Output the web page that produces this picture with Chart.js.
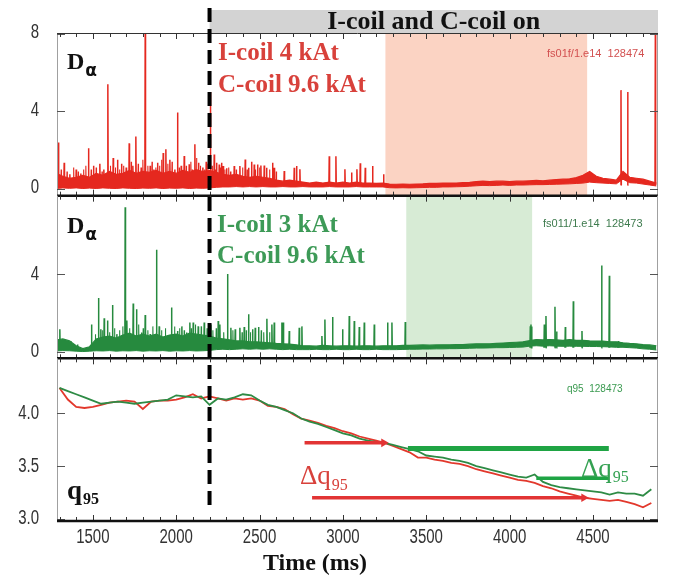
<!DOCTYPE html>
<html>
<head>
<meta charset="utf-8">
<script src="https://cdn.jsdelivr.net/npm/chart.js@4.4.1/dist/chart.umd.min.js"></script>
<style>
  html, body { margin: 0; padding: 0; background: #fff; }
  #wrap { width: 684px; height: 578px; position: relative; }
</style>
</head>
<body>
<div id="wrap"><canvas id="grafico"></canvas></div>
<script>
// ---- time axis ----
const TIME_MIN = 1285;
const TIME_MAX = 4890;
const timeTicks = [1500, 2000, 2500, 3000, 3500, 4000, 4500];
const coilOnTime = 2200;

// ---- D-alpha panels ----
const daTicksTop = [0, 4, 8];
const daTicksMid = [0, 4];
const redWindow = [3255, 4465];
const greenWindow = [3380, 4135];

// envelope of the dense D-alpha noise, sampled every 40 ms from 1280 ms
const envStart = 1280;
const envStep = 40;
const redHi = [0.8, 0.65, 0.55, 0.6, 0.7, 0.6, 0.8, 0.7, 0.9, 0.75, 0.8, 0.95, 0.8, 0.9, 0.85, 0.95, 0.8, 0.9, 0.8, 0.95, 0.85, 1.0, 0.9,
  0.95, 0.85, 0.75, 0.7, 0.75, 0.65, 0.6, 0.65, 0.6, 0.55,
  0.45, 0.4, 0.45, 0.4, 0.35, 0.3, 0.35, 0.3, 0.35, 0.3, 0.35, 0.3, 0.35, 0.3, 0.3, 0.28, 0.3,
  0.25, 0.24, 0.25, 0.24, 0.25, 0.26, 0.28, 0.28, 0.3, 0.3, 0.3, 0.32, 0.34,
  0.38, 0.4, 0.38, 0.4, 0.4, 0.38, 0.4, 0.4, 0.42, 0.44, 0.42, 0.45, 0.48, 0.5, 0.52, 0.58,
  0.7, 0.9, 0.65, 0.55, 0.5, 0.45, 0.9, 0.6, 0.55, 0.5, 0.4, 0.3];
const redLo = [0.02, 0.05, 0.03, 0.05, 0.02, 0.04, 0.02, 0.05, 0.03, 0.02, 0.05, 0.03, 0.02, 0.04, 0.03, 0.05, 0.02, 0.04, 0.03, 0.05, 0.02, 0.04, 0.03,
  0.05, 0.08, 0.1, 0.1, 0.12, 0.1, 0.12, 0.1, 0.12, 0.1,
  0.1, 0.12, 0.1, 0.1, 0.12, 0.1, 0.1, 0.1, 0.12, 0.1, 0.1, 0.1, 0.12, 0.1, 0.1, 0.1, 0.1,
  0.06, 0.05, 0.06, 0.05, 0.06, 0.07, 0.08, 0.08, 0.1, 0.1, 0.11, 0.12, 0.14,
  0.16, 0.18, 0.17, 0.18, 0.2, 0.18, 0.2, 0.2, 0.21, 0.22, 0.22, 0.23, 0.24, 0.25, 0.26, 0.28,
  0.3, 0.35, 0.32, 0.3, 0.28, 0.26, 0.5, 0.32, 0.3, 0.25, 0.2, 0.15];
const greenHi = [0.6, 0.65, 0.55, 0.3, 0.15, 0.25, 0.65, 0.75, 0.8, 0.7, 0.85, 0.95, 0.8, 0.9, 0.8, 0.9, 0.75, 0.85, 0.9, 0.8, 0.95, 0.9, 0.85,
  0.8, 0.7, 0.65, 0.6, 0.55, 0.55, 0.5, 0.5, 0.48, 0.45,
  0.42, 0.4, 0.38, 0.35, 0.3, 0.3, 0.28, 0.32, 0.3, 0.28, 0.3, 0.3, 0.28, 0.3, 0.3, 0.28, 0.3,
  0.3, 0.3, 0.32, 0.32, 0.33, 0.34, 0.33, 0.34, 0.35, 0.35, 0.36, 0.36, 0.38,
  0.4, 0.4, 0.4, 0.42, 0.44, 0.46, 0.48, 0.5, 0.56, 0.62, 0.6, 0.62, 0.6, 0.58, 0.62, 0.58,
  0.58, 0.55, 0.54, 0.54, 0.5, 0.5, 0.45, 0.42, 0.4, 0.36, 0.34, 0.3];
const greenLo = [0.03, 0.05, 0.04, 0.02, 0.0, 0.02, 0.04, 0.03, 0.05, 0.02, 0.04, 0.03, 0.05, 0.02, 0.04, 0.03, 0.05, 0.02, 0.04, 0.03, 0.05, 0.03, 0.04,
  0.06, 0.1, 0.12, 0.1, 0.12, 0.14, 0.12, 0.14, 0.12, 0.14,
  0.12, 0.1, 0.12, 0.1, 0.1, 0.1, 0.12, 0.1, 0.1, 0.12, 0.1, 0.1, 0.12, 0.1, 0.1, 0.12, 0.1,
  0.1, 0.1, 0.11, 0.12, 0.12, 0.13, 0.13, 0.14, 0.14, 0.15, 0.15, 0.16, 0.17,
  0.18, 0.18, 0.19, 0.2, 0.2, 0.21, 0.22, 0.23, 0.28, 0.3, 0.28, 0.3, 0.28, 0.27, 0.28, 0.27,
  0.27, 0.26, 0.26, 0.25, 0.24, 0.22, 0.22, 0.2, 0.18, 0.14, 0.12, 0.08];

// ELM spikes (time in ms, peak)
const redSpikeT = [1294, 1328, 1362, 1400, 1428, 1474, 1504, 1542, 1566, 1590, 1622, 1648, 1672, 1700, 1718, 1740, 1758, 1790, 1814,
  1844, 1866, 1888, 1922, 1938, 1962, 1992, 2008, 2030, 2048, 2078, 2096, 2112, 2134, 2160, 2180,
  2205, 2228, 2242, 2258, 2272, 2282, 2302, 2326, 2348, 2382, 2414, 2434, 2452, 2468, 2488, 2508, 2528, 2542, 2578, 2588,
  2648, 2708, 2722, 2742, 2918, 2958, 3012, 3052, 3084, 3104, 3134, 3178, 3244, 4668, 4708, 4874];
const redSpikeV = [2.4, 1.35, 0.75, 1.0, 0.8, 2.1, 1.2, 1.3, 1.0, 5.4, 1.6, 1.5, 1.3, 1.1, 2.35, 1.2, 2.7, 1.1, 8.0,
  1.2, 1.0, 1.35, 1.85, 2.05, 1.5, 1.0, 3.95, 1.2, 1.7, 1.27, 1.0, 2.3, 1.35, 1.1, 1.4,
  5.0, 1.78, 1.35, 1.26, 1.35, 1.18, 1.06, 0.9, 1.18, 1.18, 1.52, 1.09, 1.4, 1.26, 1.26, 1.21, 1.21, 1.09, 1.35, 1.09,
  0.92, 1.09, 1.18, 1.01, 1.69, 1.69, 1.01, 0.84, 1.01, 1.32, 1.09, 1.18, 0.76, 5.1, 5.0, 8.0];
// smaller bursts inside the noisy band
const redMinorT = [1310, 1345, 1385, 1412, 1445, 1458, 1490, 1520, 1555, 1605, 1635, 1660, 1685, 1730, 1772, 1800, 1830, 1855,
  1878, 1900, 1912, 1950, 1975, 2018, 2060, 2088, 2122, 2145, 2170, 2190,
  2215, 2235, 2265, 2292, 2315, 2360, 2398, 2425, 2475, 2500, 2560, 2600];
const redMinorV = [1.0, 0.9, 1.1, 0.9, 1.0, 1.2, 1.0, 1.1, 0.9, 1.2, 1.1, 1.0, 1.2, 1.4, 1.3, 1.5, 1.2, 1.4,
  1.1, 1.2, 1.5, 1.3, 1.4, 1.1, 1.2, 1.4, 1.6, 1.2, 1.0, 1.3,
  1.2, 1.0, 1.1, 1.0, 1.1, 1.0, 1.1, 1.0, 1.0, 1.1, 1.0, 0.9];
const greenSpikeT = [1302, 1328, 1368, 1408, 1492, 1534, 1548, 1568, 1588, 1618, 1644, 1694, 1704, 1742, 1762, 1792, 1814, 1844,
  1882, 1898, 1948, 1972, 2008, 2034, 2062, 2082, 2102, 2132, 2168, 2208, 2252, 2262, 2308, 2328, 2354, 2382,
  2408, 2434, 2458, 2474, 2494, 2544, 2574, 2588, 2634, 2642, 2678, 2738, 2754, 2874, 2892, 2938, 2998, 3038,
  3068, 3098, 3128, 3188, 3268, 3294, 3374, 4124, 4128, 4132, 4208, 4218, 4272, 4282, 4334, 4382, 4434,
  4552, 4598, 4652];
const greenSpikeV = [1.15, 0.54, 0.54, 0.36, 1.4, 2.76, 1.15, 1.72, 1.61, 2.4, 0.9, 7.45, 1.6, 2.48, 2.19, 0.98, 1.89, 0.9,
  5.26, 1.3, 0.8, 2.28, 1.06, 1.3, 0.98, 1.5, 1.5, 1.3, 1.5, 1.4, 1.58, 1.4, 4.0, 1.23, 1.15, 1.23,
  1.27, 1.93, 1.15, 1.23, 1.27, 1.7, 1.4, 1.5, 1.5, 1.5, 1.06, 1.23, 1.3, 0.8, 1.66, 1.79, 1.15, 1.84,
  1.58, 1.27, 1.5, 1.4, 1.5, 1.5, 1.53, 1.3, 1.4, 1.3, 1.4, 1.84, 2.31, 1.03, 1.27, 2.6, 1.06,
  4.44, 3.92, 0.54];
const greenMinorT = [1515, 1558, 1600, 1630, 1660, 1680, 1720, 1775, 1802, 1830, 1860, 1912, 1935, 1990, 2020, 2048, 2090, 2115,
  2150, 2185, 2220, 2240, 2285, 2340, 2395, 2420, 2445, 2510, 2525, 2560];
const greenMinorV = [0.9, 1.1, 1.0, 1.2, 1.1, 1.3, 1.2, 1.4, 1.2, 1.1, 1.3, 1.1, 1.2, 1.3, 1.2, 1.1, 1.2, 1.4,
  1.3, 1.2, 1.1, 1.2, 1.0, 1.1, 1.0, 1.1, 1.0, 1.1, 1.0, 1.0];
const spikeFoot = 0.2;

// ---- q95 panel, sampled every 50 ms from 1300 ms ----
const q95Ticks = [3.0, 3.5, 4.0];
const q95Start = 1300;
const q95Step = 50;
const q95Green = [4.24, 4.21, 4.18, 4.15, 4.12, 4.09, 4.10, 4.11, 4.10, 4.09, 4.10, 4.11, 4.12, 4.13, 4.17, 4.16, 4.15, 4.16,
  4.08, 4.14, 4.13, 4.15, 4.18, 4.17, 4.12, 4.08, 4.06, 4.03, 4.00, 3.95, 3.92, 3.90, 3.87, 3.84, 3.81, 3.79,
  3.76, 3.74, 3.73, 3.72, 3.70, 3.68, 3.66, 3.64, 3.60, 3.59, 3.58, 3.56, 3.55, 3.53, 3.50, 3.48, 3.46, 3.44,
  3.42, 3.40, 3.39, 3.42, 3.35, 3.32, 3.30, 3.29, 3.28, 3.27, 3.26, 3.25, 3.23, 3.25, 3.24, 3.24, 3.22, 3.28];
const q95Red = [4.24, 4.13, 4.06, 4.05, 4.06, 4.08, 4.10, 4.11, 4.12, 4.11, 4.04, 4.11, 4.12, 4.12, 4.13, 4.15, 4.18, 4.14,
  4.16, 4.14, 4.12, 4.14, 4.13, 4.14, 4.12, 4.07, 4.06, 4.04, 3.99, 3.95, 3.93, 3.91, 3.88, 3.86, 3.83, 3.81,
  3.78, 3.76, 3.74, 3.72, 3.69, 3.66, 3.63, 3.58, 3.58, 3.56, 3.55, 3.53, 3.52, 3.50, 3.47, 3.45, 3.43, 3.41,
  3.39, 3.37, 3.36, 3.34, 3.31, 3.29, 3.26, 3.24, 3.22, 3.20, 3.19, 3.18, 3.17, 3.18, 3.16, 3.14, 3.11, 3.15];

// delta q95 bars: [start ms, end ms], level
const redBarUpT = [2770, 3245];
const redBarUpV = 3.72;
const redBarLowT = [2815, 4445];
const redBarLowV = 3.2;
const greenBarUpT = [3390, 4595];
const greenBarUpV = 3.667;
const greenBarLowT = [4160, 4595];
const greenBarLowV = 3.385;

const RED = '#e5281f';
const GREEN = '#268a3e';
const SERIF = "'Liberation Serif', 'DejaVu Serif', serif";
const SANS = "'Liberation Sans', Arial, sans-serif";

function serieEnvelope(values) {
  return values.map((v, i) => ({ x: envStart + i * envStep, y: v }));
}

function serieQ95(values) {
  return values.map((v, i) => ({ x: q95Start + i * q95Step, y: v }));
}

function serieSpikes(times, peaks) {
  const pts = [];
  times.forEach((t, i) => {
    pts.push({ x: t - 2, y: spikeFoot }, { x: t, y: peaks[i] }, { x: t + 2, y: spikeFoot }, { x: t + 2.5, y: null });
  });
  return pts;
}

function bar(times, level) {
  return times.map(t => ({ x: t, y: level }));
}

function lineDs(data, axis, color, width, extra) {
  return Object.assign({
    data, yAxisID: axis, borderColor: color, borderWidth: width,
    pointRadius: 0, tension: 0, fill: false, spanGaps: false
  }, extra || {});
}

function withSub(ctx, x, y, main, subTxt, mainFont, subFont, color, dy) {
  ctx.font = mainFont;
  ctx.fillStyle = color;
  ctx.fillText(main, x, y);
  const w = ctx.measureText(main).width;
  ctx.font = subFont;
  ctx.fillText(subTxt, x + w + 1, y + dy);
}

// condensed tick label, like the narrow Helvetica of the original plot
function tickLabel(ctx, text, x, y, align) {
  ctx.save();
  ctx.translate(x, y);
  ctx.scale(0.75, 1);
  ctx.textAlign = align;
  ctx.textBaseline = 'middle';
  ctx.fillText(text, 0, 0);
  ctx.restore();
}

const decor = {
  id: 'decor',
  beforeDatasetsDraw(chart) {
    const { ctx, scales } = chart;
    const xs = scales.x;
    [[scales.yDa1, redWindow, '#fbd3c3'], [scales.yDa2, greenWindow, '#d7ebd5']].forEach(([ys, win, color]) => {
      const x0 = xs.getPixelForValue(win[0]);
      const x1 = xs.getPixelForValue(win[1]);
      ctx.save();
      ctx.fillStyle = color;
      ctx.fillRect(x0, ys.top, x1 - x0, ys.bottom - ys.top);
      ctx.restore();
    });
  },
  afterDatasetsDraw(chart) {
    const { ctx, chartArea: a, scales } = chart;
    const xs = scales.x;
    const panels = [scales.yDa1, scales.yDa2, scales.yQ];
    ctx.save();

    panels.forEach(ys => {
      ctx.lineWidth = 1;
      ctx.strokeStyle = '#a0a0a0';
      ctx.beginPath();
      ctx.moveTo(a.left + 0.5, ys.top); ctx.lineTo(a.left + 0.5, ys.bottom);
      ctx.moveTo(a.right - 0.5, ys.top); ctx.lineTo(a.right - 0.5, ys.bottom);
      ctx.stroke();

      ctx.strokeStyle = '#555';
      ys.ticks.forEach(t => {
        const y = Math.round(ys.getPixelForValue(t.value)) + 0.5;
        ctx.beginPath();
        ctx.moveTo(a.left, y); ctx.lineTo(a.left + 8, y);
        ctx.moveTo(a.right - 8, y); ctx.lineTo(a.right, y);
        ctx.stroke();
      });

      ctx.strokeStyle = '#333';
      for (let t = 1300; t <= 4800; t += 100) {
        const x = Math.round(xs.getPixelForValue(t)) + 0.5;
        const len = t % 500 === 0 ? 6 : 4;
        ctx.beginPath();
        ctx.moveTo(x, ys.bottom); ctx.lineTo(x, ys.bottom - len);
        ctx.moveTo(x, ys.top); ctx.lineTo(x, ys.top + len);
        ctx.stroke();
      }

      ctx.strokeStyle = '#111';
      ctx.lineWidth = 2.5;
      ctx.beginPath();
      ctx.moveTo(a.left, ys.bottom); ctx.lineTo(a.right, ys.bottom);
      ctx.stroke();
    });

    // top frame line
    ctx.strokeStyle = '#333';
    ctx.lineWidth = 1;
    ctx.beginPath();
    ctx.moveTo(a.left, a.top + 0.5); ctx.lineTo(a.right, a.top + 0.5);
    ctx.stroke();

    // tick labels
    ctx.fillStyle = '#333';
    ctx.font = '20px ' + SANS;
    scales.yDa1.ticks.forEach(t => tickLabel(ctx, String(t.value), a.left - 18, scales.yDa1.getPixelForValue(t.value) - 1, 'right'));
    scales.yDa2.ticks.forEach(t => tickLabel(ctx, String(t.value), a.left - 18, scales.yDa2.getPixelForValue(t.value), 'right'));
    scales.yQ.ticks.forEach(t => tickLabel(ctx, t.value.toFixed(1), a.left - 18, scales.yQ.getPixelForValue(t.value), 'right'));
    xs.ticks.forEach(t => tickLabel(ctx, String(t.value), xs.getPixelForValue(t.value), a.bottom + 16, 'center'));

    // banner
    const xOn = xs.getPixelForValue(coilOnTime);
    ctx.fillStyle = '#d3d3d3';
    ctx.fillRect(xOn, 10, a.right - xOn, a.top - 10);
    ctx.fillStyle = '#111';
    ctx.font = 'bold 26px ' + SERIF;
    ctx.textAlign = 'center';
    ctx.textBaseline = 'alphabetic';
    ctx.fillText('I-coil and C-coil on', (xOn + a.right) / 2, 29);
    ctx.textAlign = 'left';

    // dashed coil-on line
    ctx.strokeStyle = '#000';
    ctx.lineWidth = 4;
    ctx.setLineDash([14, 7]);
    ctx.beginPath();
    ctx.moveTo(xOn, 8); ctx.lineTo(xOn, 509);
    ctx.stroke();
    ctx.setLineDash([]);

    // panel labels
    const dFont = 'bold 24px ' + SERIF;
    const aFont = 'bold 17px DejaVu Sans';
    withSub(ctx, 67, 69, 'D', 'α', dFont, aFont, '#111', 7);
    withSub(ctx, 67, 233, 'D', 'α', dFont, aFont, '#111', 7);
    withSub(ctx, 67, 499, 'q', '95', 'bold 27px ' + SERIF, 'bold 16px ' + SERIF, '#111', 5);

    ctx.font = 'bold 25px ' + SERIF;
    ctx.fillStyle = '#d8413b';
    ctx.fillText('I-coil 4 kAt', 218, 60);
    ctx.fillText('C-coil 9.6 kAt', 218, 92);
    ctx.fillStyle = '#3d9a57';
    ctx.fillText('I-coil 3 kAt', 217, 232);
    ctx.fillText('C-coil 9.6 kAt', 217, 263);

    ctx.font = '11px ' + SANS;
    ctx.fillStyle = '#d25050';
    ctx.fillText('fs01f/1.e14  128474', 547, 57);
    ctx.fillStyle = '#3d7a4d';
    ctx.fillText('fs011/1.e14  128473', 543, 227);
    ctx.fillStyle = '#3a9a50';
    ctx.font = '10px ' + SANS;
    ctx.fillText('q95  128473', 567, 392);

    withSub(ctx, 300, 484, 'Δq', '95', '27px ' + SERIF, '16px ' + SERIF, '#d8413b', 6);
    withSub(ctx, 581, 477, 'Δq', '95', '27px ' + SERIF, '16px ' + SERIF, '#34a152', 5);

    ctx.fillStyle = '#111';
    ctx.font = 'bold 24px ' + SERIF;
    ctx.textAlign = 'center';
    ctx.fillText('Time (ms)', 315, 570);
    ctx.restore();
  }
};

const yBase = (weight, min, max, ticks) => ({
  type: 'linear', position: 'left', stack: 'panels', stackWeight: 1, weight,
  min, max,
  grid: { display: false }, border: { display: false },
  ticks: { display: false },
  afterBuildTicks: s => { s.ticks = ticks.map(v => ({ value: v })); },
  afterFit: s => { s.width = 57; }
});

const minorStyle = { borderWidth: 1.1 };

new Chart(document.getElementById('grafico').getContext('2d'), {
  type: 'line',
  data: {
    datasets: [
      lineDs(serieEnvelope(redHi), 'yDa1', RED, 1.2, { fill: '+1', backgroundColor: RED }),
      lineDs(serieEnvelope(redLo), 'yDa1', RED, 1),
      lineDs(serieSpikes(redMinorT, redMinorV), 'yDa1', RED, 1.1),
      lineDs(serieSpikes(redSpikeT, redSpikeV), 'yDa1', RED, 1.5),
      lineDs(serieEnvelope(greenHi), 'yDa2', GREEN, 1.2, { fill: '+1', backgroundColor: GREEN }),
      lineDs(serieEnvelope(greenLo), 'yDa2', GREEN, 1),
      lineDs(serieSpikes(greenMinorT, greenMinorV), 'yDa2', GREEN, 1.1),
      lineDs(serieSpikes(greenSpikeT, greenSpikeV), 'yDa2', GREEN, 1.5),
      lineDs(bar(greenBarUpT, greenBarUpV), 'yQ', '#1fa444', 5),
      lineDs(bar(greenBarLowT, greenBarLowV), 'yQ', '#1fa444', 3.5),
      lineDs(bar(redBarUpT, redBarUpV), 'yQ', '#e23434', 3.5,
        { pointRadius: [0, 5], pointStyle: 'triangle', rotation: 90, pointBackgroundColor: '#e23434', pointBorderWidth: 0 }),
      lineDs(bar(redBarLowT, redBarLowV), 'yQ', '#e23434', 3.5,
        { pointRadius: [0, 5], pointStyle: 'triangle', rotation: 90, pointBackgroundColor: '#e23434', pointBorderWidth: 0 }),
      lineDs(serieQ95(q95Green), 'yQ', '#2e8b45', 1.8),
      lineDs(serieQ95(q95Red), 'yQ', '#e2382c', 1.8)
    ]
  },
  options: {
    responsive: true,
    maintainAspectRatio: false,
    animation: false,
    events: [],
    layout: { padding: { top: 33, right: 26, left: 0, bottom: 0 } },
    plugins: { legend: { display: false }, tooltip: { enabled: false } },
    scales: {
      x: {
        type: 'linear', position: 'bottom', min: TIME_MIN, max: TIME_MAX,
        grid: { display: false }, border: { display: false },
        ticks: { display: false },
        afterBuildTicks: s => { s.ticks = timeTicks.map(v => ({ value: v })); },
        afterFit: s => { s.height = 57; }
      },
      yQ: yBase(1, 2.98, 4.52, q95Ticks),
      yDa2: yBase(2, -0.35, 8.05, daTicksMid),
      yDa1: yBase(3, -0.35, 8.05, daTicksTop)
    }
  },
  plugins: [decor]
});
</script>
</body>
</html>
